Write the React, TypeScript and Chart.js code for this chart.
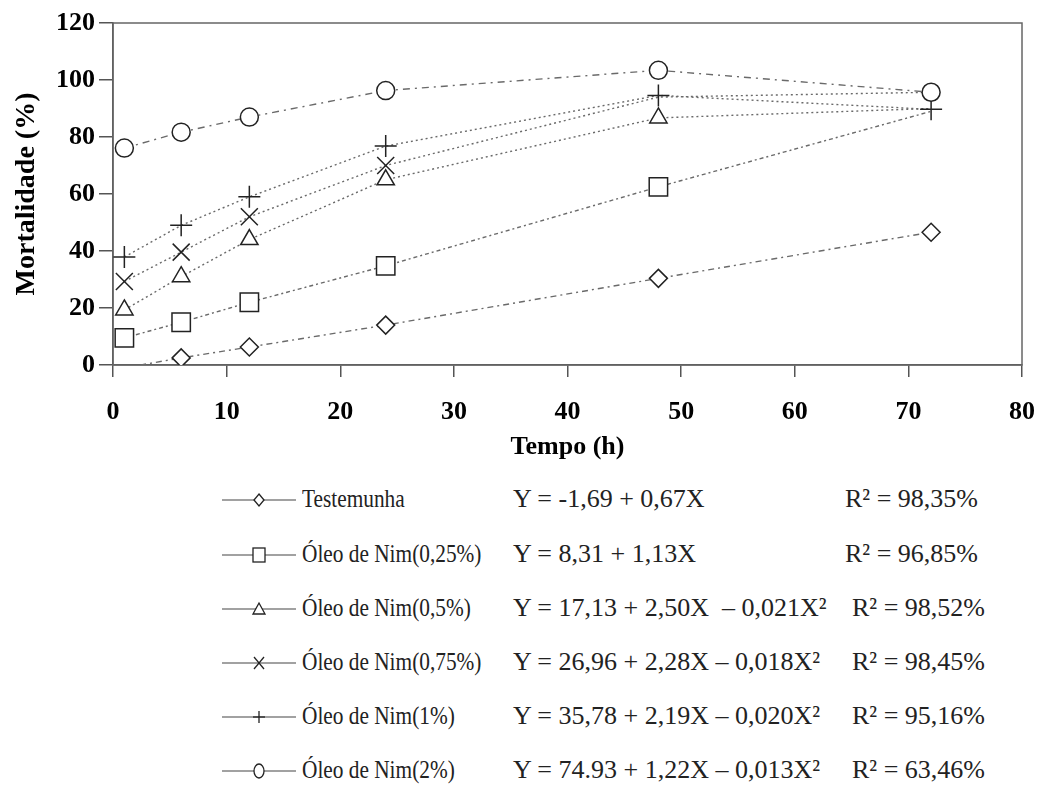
import React, { useEffect, useRef } from "react";
import { Chart, registerables } from "chart.js";

Chart.register(...registerables);

// ---- data ----
const hours = [1, 6, 12, 24, 48, 72];
const testemunha = [-1, 2.5, 6.3, 14, 30.4, 46.6];
const oleo025 = [9.5, 15, 22, 34.8, 62.5, 89];
const oleo05 = [19.3, 31, 44, 65, 86.7, 90];
const oleo075 = [29.3, 39.6, 52, 70, 94, 95.7];
const oleo1 = [37.9, 49, 59, 76.8, 94.6, 89.7];
const oleo2 = [76.1, 81.7, 87, 96.3, 103.4, 95.7];

const seriesNames = [
  "Testemunha",
  "Óleo de Nim(0,25%)",
  "Óleo de Nim(0,5%)",
  "Óleo de Nim(0,75%)",
  "Óleo de Nim(1%)",
  "Óleo de Nim(2%)",
];
const equations = [
  "Y = -1,69 + 0,67X",
  "Y = 8,31 + 1,13X",
  "Y = 17,13 + 2,50X  – 0,021X²",
  "Y = 26,96 + 2,28X – 0,018X²",
  "Y = 35,78 + 2,19X – 0,020X²",
  "Y = 74.93 + 1,22X – 0,013X²",
];
const r2Labels = [
  "R² = 98,35%",
  "R² = 96,85%",
  "R² = 98,52%",
  "R² = 98,45%",
  "R² = 95,16%",
  "R² = 63,46%",
];
const xMin = 0;
const xMax = 80;
const xStep = 10;
const yMin = 0;
const yMax = 120;
const yStep = 20;
const xTitle = "Tempo (h)";
const yTitle = "Mortalidade (%)";

const serif = "'Liberation Serif', 'Times New Roman', serif";

// marker styles per series (markers that are covered by others in the original are not drawn)
const styles = [
  { pointStyle: "rectRot", radius: 9, dash: [6, 4, 2, 4], hidden: [] as number[] },
  { pointStyle: "rect", radius: 13, dash: [4, 3, 2, 3], hidden: [5] },
  { pointStyle: "triangle", radius: 10, dash: [2, 3], hidden: [5] },
  { pointStyle: "crossRot", radius: 12, dash: [2, 3], hidden: [4, 5] },
  { pointStyle: "cross", radius: 11, dash: [2, 3], hidden: [] as number[] },
  { pointStyle: "circle", radius: 9, dash: [7, 5, 2, 5], hidden: [] as number[] },
];
const drawOrder = [5, 4, 3, 2, 1, 0];

const allSeries = [testemunha, oleo025, oleo05, oleo075, oleo1, oleo2];

const boxPlugin = {
  id: "boxPlugin",
  beforeDatasetsDraw(chart: any) {
    const { ctx, chartArea } = chart;
    ctx.save();
    ctx.strokeStyle = "#666";
    ctx.lineWidth = 1.5;
    ctx.strokeRect(chartArea.left, chartArea.top, chartArea.right - chartArea.left, chartArea.bottom - chartArea.top);
    ctx.restore();
  },
};

function LegendSymbol({ idx }: { idx: number }) {
  const cx = 37;
  const cy = 10;
  let marker: any = null;
  const st = { fill: "#fff", stroke: "#222", strokeWidth: 1.3 };
  if (idx === 0) marker = <polygon points={`${cx},${cy - 6} ${cx + 5},${cy} ${cx},${cy + 6} ${cx - 5},${cy}`} {...st} />;
  if (idx === 1) marker = <rect x={cx - 6} y={cy - 7} width={12} height={14} {...st} />;
  if (idx === 2) marker = <polygon points={`${cx},${cy - 6} ${cx + 6},${cy + 5} ${cx - 6},${cy + 5}`} {...st} />;
  if (idx === 3)
    marker = (
      <g stroke="#222" strokeWidth={1.3}>
        <line x1={cx - 5} y1={cy - 6} x2={cx + 5} y2={cy + 6} />
        <line x1={cx + 5} y1={cy - 6} x2={cx - 5} y2={cy + 6} />
      </g>
    );
  if (idx === 4)
    marker = (
      <g stroke="#222" strokeWidth={1.3}>
        <line x1={cx} y1={cy - 6} x2={cx} y2={cy + 6} />
        <line x1={cx - 6} y1={cy} x2={cx + 6} y2={cy} />
      </g>
    );
  if (idx === 5) marker = <ellipse cx={cx} cy={cy} rx={5} ry={7} {...st} />;
  return (
    <svg width={74} height={20} style={{ position: "absolute", left: 222, top: -10 }}>
      <line x1={0} y1={cy} x2={74} y2={cy} stroke="#444" strokeWidth={1.2} />
      {marker}
    </svg>
  );
}

export default function App() {
  const canvasRef = useRef<HTMLCanvasElement>(null);

  useEffect(() => {
    const datasets = allSeries.map((arr, i) => ({
      label: seriesNames[i],
      data: hours.map((h, j) => ({ x: h, y: arr[j] })),
      order: drawOrder[i],
      borderColor: "#6a6a6a",
      borderWidth: 1.4,
      borderDash: styles[i].dash,
      backgroundColor: "#fff",
      pointStyle: styles[i].pointStyle,
      pointRadius: (c: any) =>
        (c.parsed && c.parsed.y < 0) || styles[i].hidden.indexOf(c.dataIndex) >= 0 ? 0 : styles[i].radius,
      pointBorderColor: "#222",
      pointBackgroundColor: "#fff",
      pointBorderWidth: 1.5,
      tension: 0,
      fill: false,
    }));

    const chart = new Chart(canvasRef.current as HTMLCanvasElement, {
      type: "line",
      data: { datasets },
      plugins: [boxPlugin],
      options: {
        animation: false,
        responsive: true,
        maintainAspectRatio: false,
        layout: { padding: { left: 0, right: 20, top: 23, bottom: 0 } },
        plugins: { legend: { display: false }, tooltip: { enabled: false } },
        scales: {
          x: {
            type: "linear",
            min: xMin,
            max: xMax,
            ticks: {
              stepSize: xStep,
              color: "#000",
              padding: 20,
              maxRotation: 0,
              font: { family: serif, size: 26, weight: "bold" },
            },
            grid: {
              drawOnChartArea: false,
              drawTicks: true,
              tickLength: 12,
              color: "#555",
              lineWidth: 1.5,
            },
            border: { display: true, color: "#555", width: 1.5 },
            title: {
              display: true,
              text: xTitle,
              color: "#000",
              font: { family: serif, size: 26, weight: "bold" },
              padding: { top: 0, bottom: 7 },
            },
            afterFit: (s: any) => {
              s.height = 105;
              s.paddingLeft = 0;
              s.paddingRight = 0;
            },
          },
          y: {
            type: "linear",
            min: yMin,
            max: yMax,
            ticks: {
              stepSize: yStep,
              color: "#000",
              padding: 4,
              font: { family: serif, size: 26, weight: "bold" },
            },
            grid: {
              drawOnChartArea: false,
              drawTicks: true,
              tickLength: 14,
              color: "#555",
              lineWidth: 1.5,
            },
            border: { display: true, color: "#555", width: 1.5 },
            title: {
              display: true,
              text: yTitle,
              color: "#000",
              font: { family: serif, size: 28, weight: "bold" },
              padding: { top: 10, bottom: 0 },
            },
            afterFit: (s: any) => {
              s.width = 113;
            },
          },
        },
      } as any,
    });
    return () => chart.destroy();
  }, []);

  const rowTops = [500, 555, 609, 663, 717, 771];
  const r2Left = [845, 845, 852, 852, 852, 852];

  return (
    <div style={{ position: "absolute", left: 0, top: 0, width: 1042, height: 785, background: "#fff" }}>
      <div style={{ position: "absolute", left: 0, top: 0, width: 1042, height: 470 }}>
        <canvas ref={canvasRef} />
      </div>
      {seriesNames.map((name, i) => (
        <div key={name} style={{ position: "absolute", left: 0, top: rowTops[i], width: 1042, height: 0 }}>
          <LegendSymbol idx={i} />
          <span
            style={{
              position: "absolute",
              left: 302,
              top: -16,
              fontFamily: serif,
              fontSize: 26,
              lineHeight: "30px",
              color: "#222",
              whiteSpace: "nowrap",
              transform: "scaleX(0.82)",
              transformOrigin: "left center",
            }}
          >
            {name}
          </span>
          <span
            style={{
              position: "absolute",
              left: 513,
              top: -16,
              fontFamily: serif,
              fontSize: 26,
              lineHeight: "30px",
              color: "#222",
              whiteSpace: "pre",
            }}
          >
            {equations[i]}
          </span>
          <span
            style={{
              position: "absolute",
              left: r2Left[i],
              top: -16,
              fontFamily: serif,
              fontSize: 26,
              lineHeight: "30px",
              color: "#222",
              whiteSpace: "nowrap",
            }}
          >
            {r2Labels[i]}
          </span>
        </div>
      ))}
    </div>
  );
}
